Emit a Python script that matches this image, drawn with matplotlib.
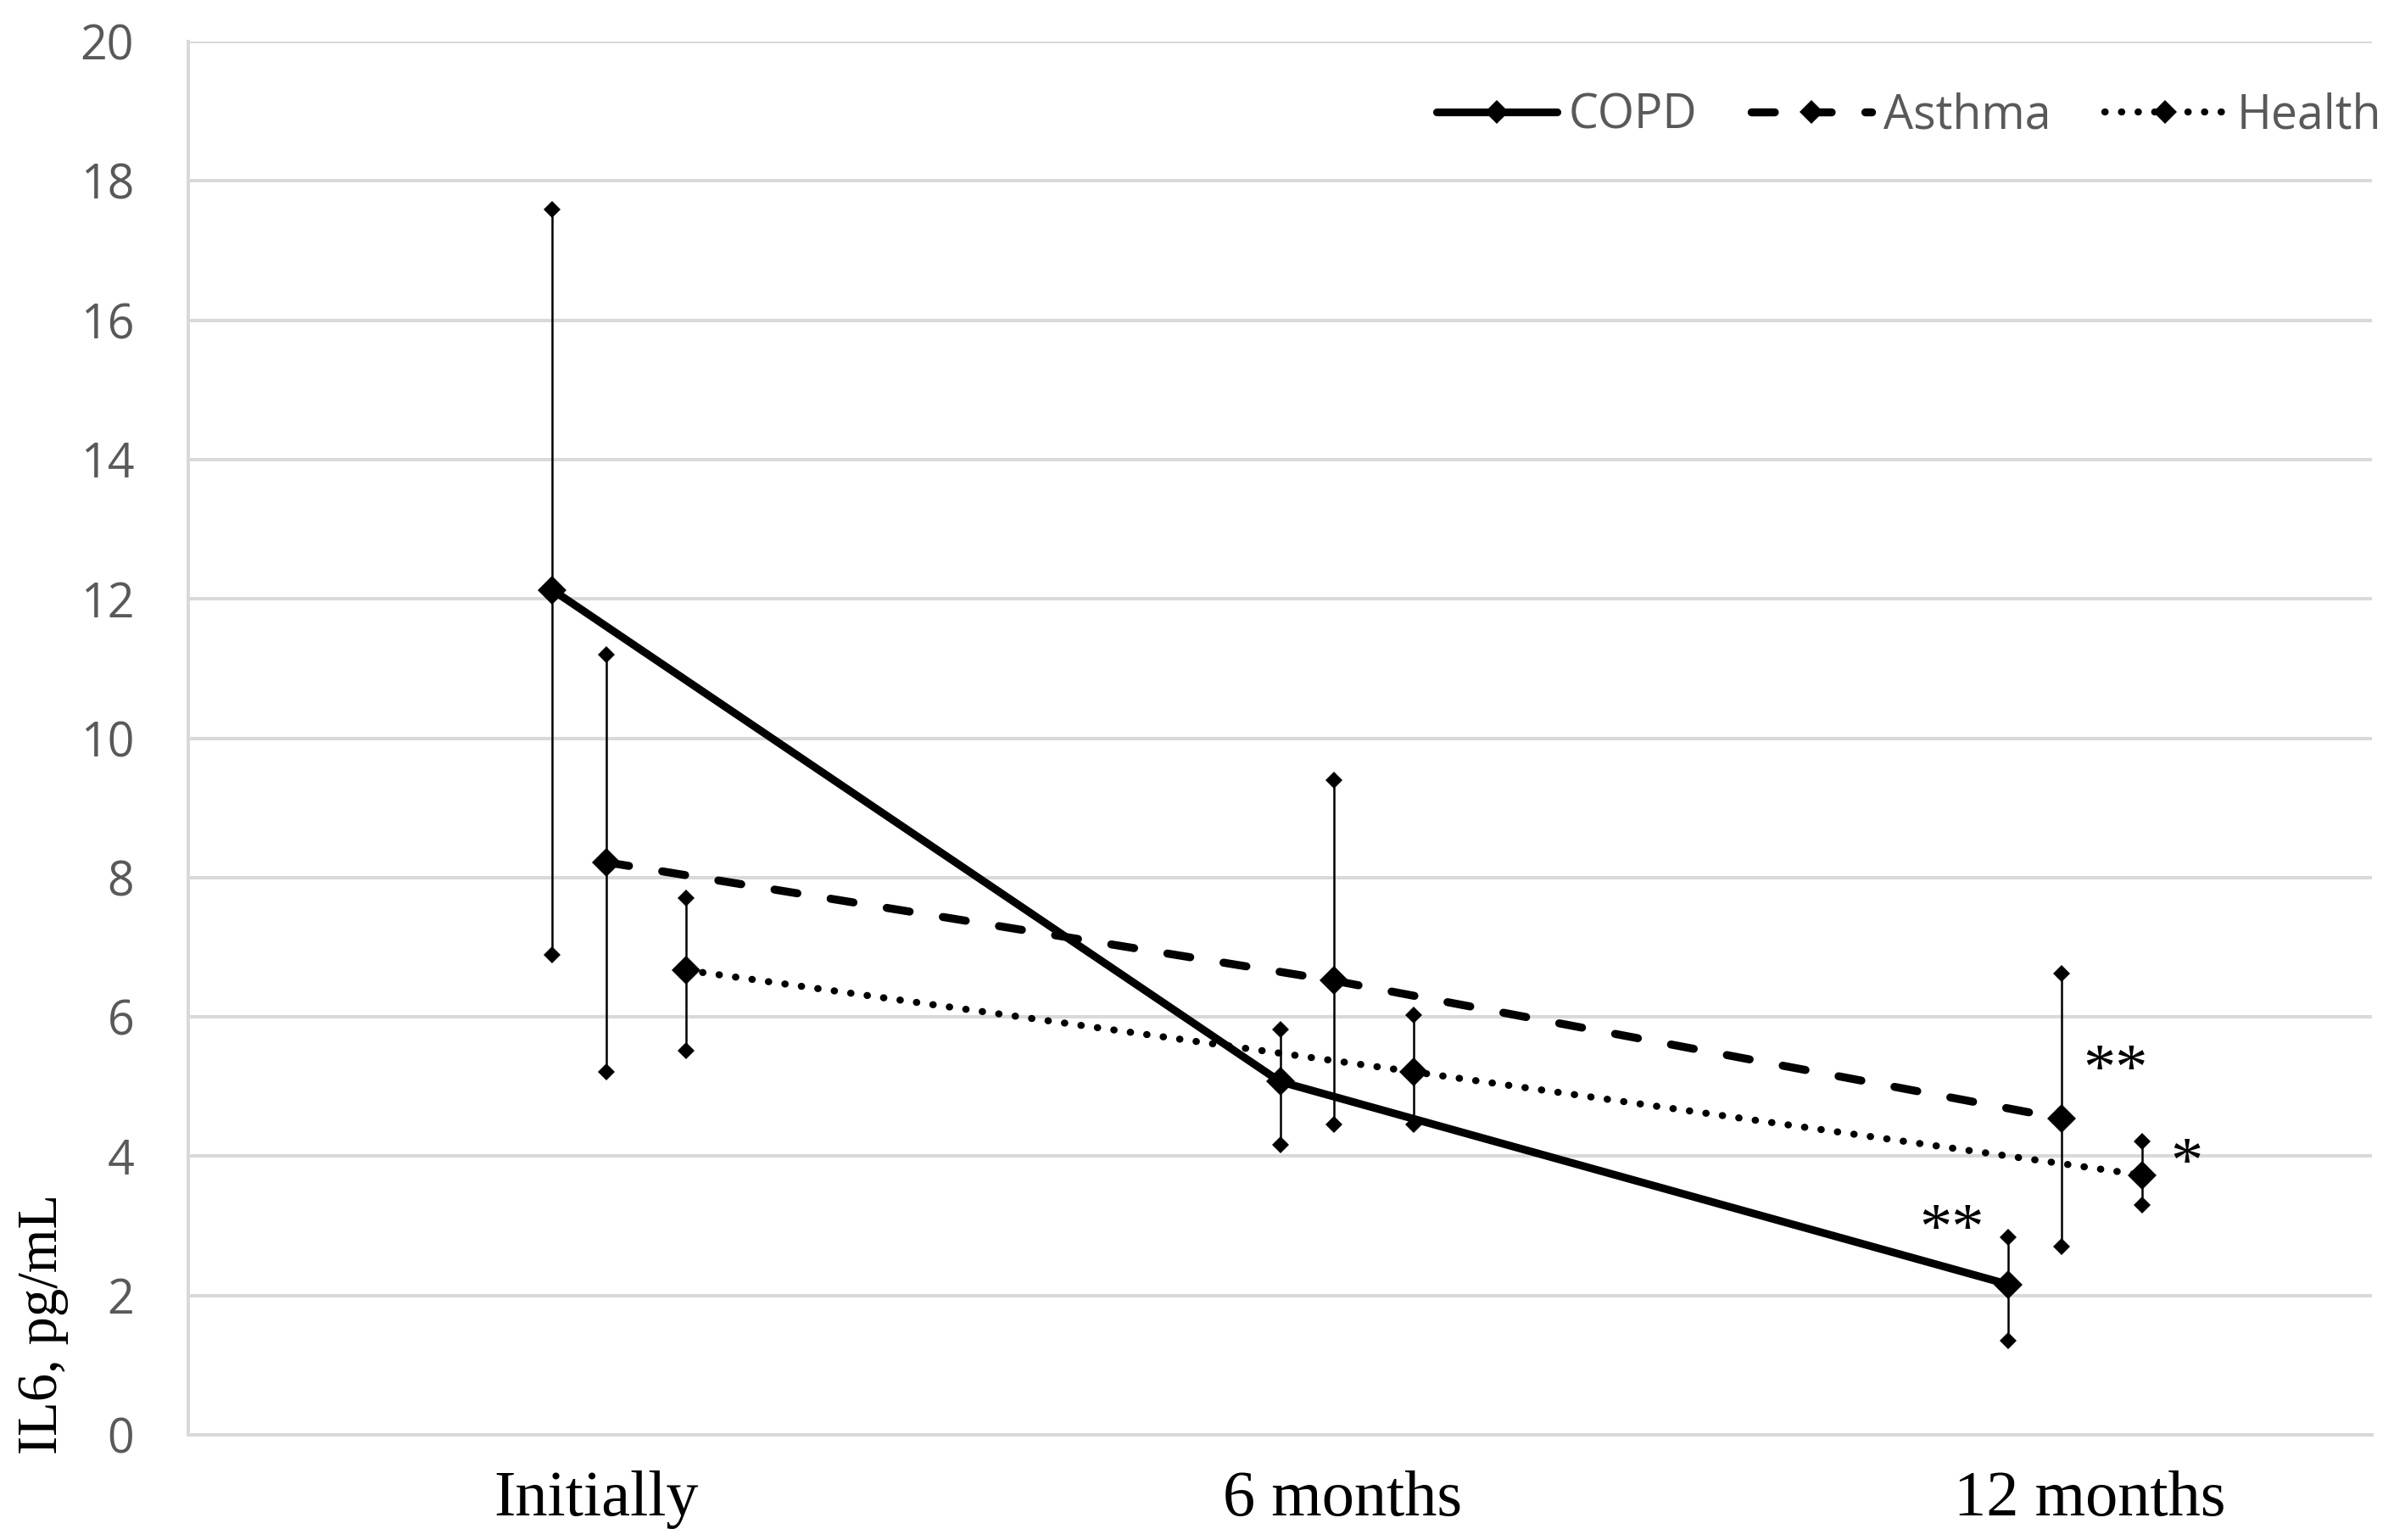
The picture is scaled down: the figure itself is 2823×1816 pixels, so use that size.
import matplotlib
matplotlib.use("Agg")
import matplotlib.pyplot as plt
from matplotlib.lines import Line2D
import numpy as np

categories = ["Initially", "6 months", "12 months"]
series_names = ["COPD", "Asthma", "Health"]

copd_mean = [12.13, 5.07, 2.16]
copd_low = [6.89, 4.16, 1.35]
copd_high = [17.59, 5.82, 2.84]

asthma_mean = [8.22, 6.52, 4.54]
asthma_low = [5.21, 4.45, 2.70]
asthma_high = [11.20, 9.40, 6.62]

health_mean = [6.67, 5.21, 3.73]
health_low = [5.51, 4.46, 3.30]
health_high = [7.70, 6.02, 4.21]

yticks = [0, 2, 4, 6, 8, 10, 12, 14, 16, 18, 20]

annotations = [("**", "COPD", 2), ("**", "Asthma", 2), ("*", "Health", 2)]

W, H = 2823, 1816
DPI = 100
fig = plt.figure(figsize=(W / DPI, H / DPI), dpi=DPI)
L, R, B, T = 222, 2797, 1692, 49
ax = fig.add_axes([L / W, 1 - B / H, (R - L) / W, (B - T) / H])

grid_col = "#d9d9d9"
txt_gray = "#595959"
sans = "Open Sans"
serif = "Liberation Serif"

x = np.arange(len(categories))
offsets = {"COPD": 0.0, "Asthma": 0.074, "Health": 0.184}
styles = {
    "COPD": dict(linestyle="-", linewidth=6.6),
    "Asthma": dict(linestyle=(0, (2.9, 4.2)), linewidth=6.8),
    "Health": dict(linestyle=(0, (0.05, 2.3)), linewidth=6.0),
}
data = {
    "COPD": (copd_mean, copd_low, copd_high),
    "Asthma": (asthma_mean, asthma_low, asthma_high),
    "Health": (health_mean, health_low, health_high),
}

for name in series_names:
    m, lo, hi = data[name]
    xs = x + offsets[name]
    ax.vlines(xs, lo, hi, colors="black", linewidth=1.8, zorder=3)
    ax.plot(xs, lo, "D", color="black", markersize=10, markeredgewidth=0, zorder=4)
    ax.plot(xs, hi, "D", color="black", markersize=10, markeredgewidth=0, zorder=4)
    ax.plot(xs, m, color="black", solid_capstyle="round",
            dash_capstyle="round", zorder=5, **styles[name])
    ax.plot(xs, m, "D", color="black", markersize=17, markeredgewidth=0, zorder=6)

ax.set_xlim(-0.5, 2.5)
ax.set_ylim(0, 20)
ax.set_yticks(yticks)
ax.set_yticklabels([str(t) for t in yticks], fontfamily=sans, fontsize=40, color=txt_gray)
ax.tick_params(axis="y", length=0, pad=46)

label_pos = [0.06, 0.086, 0.112]
ax.set_xticks(x + np.array(label_pos))
ax.set_xticklabels(categories, fontfamily=serif, fontsize=55, color="black")
ax.tick_params(axis="x", length=0, pad=30)

ax.grid(axis="y", color=grid_col, linewidth=2.9, zorder=0)
ax.set_axisbelow(True)
for s in ["top", "right"]:
    ax.spines[s].set_visible(False)
for s in ["left", "bottom"]:
    ax.spines[s].set_color(grid_col)
    ax.spines[s].set_linewidth(2.9)

# significance markers
ann_pos = {"COPD": (1.923, 2.91), "Asthma": (2.148, 5.20), "Health": (2.245, 3.87)}
for txt, name, i in annotations:
    px, py = ann_pos[name]
    ax.text(px, py, txt, fontfamily=serif, fontsize=55, ha="center", va="center",
            color="black")

fig.text(51 / W, 1 - 1561 / H, "IL6, pg/mL", rotation=90, fontfamily=serif,
         fontsize=48, ha="center", va="center", color="black")

handles = []
for name in series_names:
    handles.append(Line2D([0], [0], color="black", marker="D",
                          markersize=14, markeredgewidth=0, solid_capstyle="round",
                          dash_capstyle="round", **styles[name]))
leg = fig.legend(handles, series_names, loc="center right",
                 bbox_to_anchor=(2808 / W, 1 - 137 / H), ncol=3, frameon=False,
                 prop={"family": sans, "size": 40}, handlelength=2.55,
                 handletextpad=0.25, columnspacing=1.15, borderaxespad=0,
                 borderpad=0)
for t in leg.get_texts():
    t.set_color(txt_gray)

fig.savefig("out.png", dpi=DPI)
